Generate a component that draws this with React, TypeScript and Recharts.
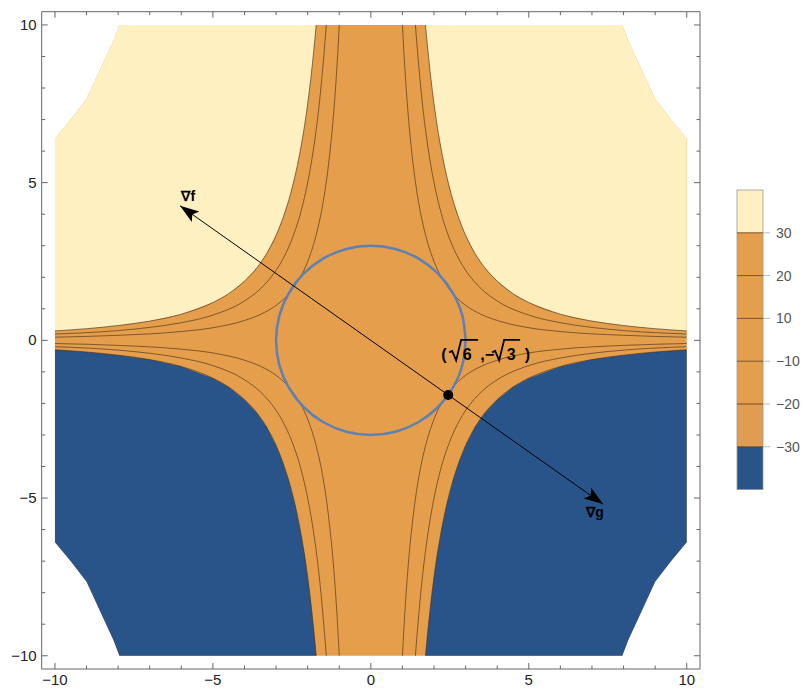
import React from 'react';
import { ScatterChart, Scatter, XAxis, YAxis, ReferenceLine } from 'recharts';

type Pt = { x: number; y: number };

const LIM = 10.42;
const AXIS_TICKS = [-10, -9, -8, -7, -6, -5, -4, -3, -2, -1, 0, 1, 2, 3, 4, 5, 6, 7, 8, 9, 10];

// contours of f = x²y, branch with x > 0, y > 0
const LEVEL_10 = [[1, 10], [1.05, 9.07], [1.1, 8.26], [1.2, 6.94], [1.3, 5.92], [1.4, 5.1], [1.5, 4.44], [1.75, 3.27], [2, 2.5], [2.5, 1.6], [3, 1.11], [3.5, 0.82], [4, 0.63], [5, 0.4], [6, 0.28], [8, 0.16], [10, 0.1]];
const LEVEL_20 = [[1.41, 10], [1.5, 8.89], [1.6, 7.81], [1.75, 6.53], [1.9, 5.54], [2, 5], [2.2, 4.13], [2.5, 3.2], [2.8, 2.55], [3, 2.22], [3.5, 1.63], [4, 1.25], [5, 0.8], [6, 0.56], [7, 0.41], [8, 0.31], [10, 0.2]];
const LEVEL_30 = [[1.73, 10], [1.8, 9.26], [1.9, 8.31], [2, 7.5], [2.1, 6.8], [2.25, 5.93], [2.4, 5.21], [2.6, 4.44], [2.8, 3.83], [3, 3.33], [3.3, 2.75], [3.6, 2.31], [4, 1.88], [4.5, 1.48], [5, 1.2], [6, 0.83], [7, 0.61], [8, 0.47], [9, 0.37], [10, 0.3]];

// edge of the plotted region in the upper-right corner
const CORNER = [[7.96, 10], [8.15, 9.5], [8.45, 8.85], [9.0, 7.65], [9.5, 7.0], [10, 6.4]];

// constraint circle x² + y² = 9
const CIRCLE = [[3, 0], [2.898, 0.776], [2.598, 1.5], [2.121, 2.121], [1.5, 2.598], [0.776, 2.898], [0, 3], [-0.776, 2.898], [-1.5, 2.598], [-2.121, 2.121], [-2.598, 1.5], [-2.898, 0.776], [-3, 0], [-2.898, -0.776], [-2.598, -1.5], [-2.121, -2.121], [-1.5, -2.598], [-0.776, -2.898], [0, -3], [0.776, -2.898], [1.5, -2.598], [2.121, -2.121], [2.598, -1.5], [2.898, -0.776], [3, 0]];

const POINT = { x: 2.449, y: -1.732 };
const GRAD_F = [-8.49, 6.0];
const GRAD_G = [4.9, -3.46];

const LEGEND_LABELS = ['30', '20', '10', '\u221210', '\u221220', '\u221230'];

const YELLOW = '#FEF0C0';
const ORANGE = '#E59E4C';
const ORANGE_LOW = '#E09C51';
const BLUE = '#285489';
const LEGEND_COLORS = [YELLOW, ORANGE, ORANGE, ORANGE, ORANGE, ORANGE_LOW, BLUE];
const FRAME = '#666';
const FONT = '"Liberation Sans", Arial, sans-serif';

const PLOT_W = 658.3;
const PLOT_H = 657.3;

const toPts = (a: number[][]): Pt[] => a.map(([x, y]) => ({ x, y }));
const flipX = (a: Pt[]) => a.map((p) => ({ x: -p.x, y: p.y }));
const flipY = (a: Pt[]) => a.map((p) => ({ x: p.x, y: -p.y }));
const rev = (a: Pt[]) => [...a].reverse();

const corner = toPts(CORNER);
const c30 = toPts(LEVEL_30);

const yellowRight = [...c30, ...rev(corner)];
const regions = [
  { key: 'yl', data: flipX(yellowRight), fill: YELLOW },
  { key: 'yr', data: yellowRight, fill: YELLOW },
  { key: 'bl', data: flipX(flipY(yellowRight)), fill: BLUE },
  { key: 'br', data: flipY(yellowRight), fill: BLUE },
];
const plotted = [...corner, ...rev(flipY(corner)), ...flipX(flipY(corner)), ...rev(flipX(corner))];

const contours: { key: string; data: Pt[] }[] = [];
[LEVEL_10, LEVEL_20, LEVEL_30].forEach((lv, i) => {
  const right = toPts(lv);
  const left = rev(flipX(right));
  contours.push({ key: `r${i}`, data: right });
  contours.push({ key: `l${i}`, data: left });
  contours.push({ key: `rn${i}`, data: flipY(right) });
  contours.push({ key: `ln${i}`, data: flipY(left) });
});

const tipF = { x: POINT.x + GRAD_F[0], y: POINT.y + GRAD_F[1], dx: GRAD_F[0], dy: GRAD_F[1] };
const tipG = { x: POINT.x + GRAD_G[0], y: POINT.y + GRAD_G[1], dx: GRAD_G[0], dy: GRAD_G[1] };

const LABELS = [
  { x: -5.78, y: 4.58, text: 'f' },
  { x: 7.1, y: -5.45, text: 'g' },
  { x: 3.65, y: -0.35, text: 'pt' },
];

const fmt = (v: number) => (v < 0 ? `\u2212${-v}` : `${v}`);
const none = () => <g />;

function XTick(props: any) {
  const { x, y, payload } = props;
  const v = payload.value;
  const major = v % 5 === 0;
  const len = major ? 6 : 3.5;
  return (
    <g>
      <line x1={x} x2={x} y1={y} y2={y - len} stroke={FRAME} />
      <line x1={x} x2={x} y1={y - PLOT_H} y2={y - PLOT_H + len} stroke={FRAME} />
      {major && (
        <text x={x} y={y + 16} textAnchor="middle" fontSize={15} fontFamily={FONT} fill="#222">
          {fmt(v)}
        </text>
      )}
    </g>
  );
}

function YTick(props: any) {
  const { x, y, payload } = props;
  const v = payload.value;
  const major = v % 5 === 0;
  const len = major ? 6 : 3.5;
  return (
    <g>
      <line x1={x} x2={x + len} y1={y} y2={y} stroke={FRAME} />
      <line x1={x + PLOT_W} x2={x + PLOT_W - len} y1={y} y2={y} stroke={FRAME} />
      {major && (
        <text x={x - 5} y={y + 5} textAnchor="end" fontSize={15} fontFamily={FONT} fill="#222">
          {fmt(v)}
        </text>
      )}
    </g>
  );
}

function Head(props: any) {
  const { cx, cy, payload } = props;
  const ang = (Math.atan2(-payload.dy, payload.dx) * 180) / Math.PI;
  return (
    <path
      d="M0,0 L-19,-6.5 L-15,0 L-19,6.5 Z"
      transform={`translate(${cx},${cy}) rotate(${ang})`}
      fill="#000"
    />
  );
}

const RADICAL = 'M-37,1 l3,-1.5 l4,9.5 l5,-20.5';

function Label(props: any) {
  const { cx, cy, payload } = props;
  const common = { fontFamily: FONT, fontWeight: 700, fill: '#000' } as const;
  if (payload.text === 'pt') {
    return (
      <g transform={`translate(${cx},${cy})`}>
        <text y={9} fontSize={16} {...common}>
          <tspan x={-45}>(</tspan>
          <tspan x={-23.5}>6</tspan>
          <tspan x={-6}>,</tspan>
          <tspan x={-1.5}>−</tspan>
          <tspan x={20.5}>3</tspan>
          <tspan x={38.5}>)</tspan>
        </text>
        <path d={`${RADICAL} H-8`} fill="none" stroke="#000" strokeWidth={1.8} />
        <path d={`${RADICAL} H-9`} transform="translate(43,0)" fill="none" stroke="#000" strokeWidth={1.8} />
      </g>
    );
  }
  return (
    <text x={cx} y={cy + 5} textAnchor="middle" fontSize={14} {...common}>
      ∇{payload.text}
    </text>
  );
}

function ColorBar() {
  const bandH = 42.8;
  return (
    <svg width={80} height={320} style={{ position: 'absolute', left: 730, top: 185 }}>
      {LEGEND_COLORS.map((c, i) => (
        <rect key={c + i} x={7} y={5 + i * bandH} width={26} height={bandH} fill={c} />
      ))}
      <rect x={7} y={5} width={26} height={bandH * 7} fill="none" stroke="#999" strokeWidth={0.8} />
      {LEGEND_LABELS.map((t, i) => {
        const yy = 5 + (i + 1) * bandH;
        return (
          <g key={t}>
            <line x1={7} x2={33} y1={yy} y2={yy} stroke="#5a3c1c" strokeWidth={0.8} />
            <line x1={33} x2={40} y1={yy} y2={yy} stroke="#bbb" />
            <text x={46} y={yy + 5} fontSize={14} fontFamily={FONT} fill="#555">
              {t}
            </text>
          </g>
        );
      })}
    </svg>
  );
}

export default function App() {
  return (
    <div style={{ position: 'absolute', left: 0, top: 0, width: 806, height: 692, background: '#fff' }}>
      <ScatterChart width={806} height={692} margin={{ top: 11.7, right: 106, bottom: 0, left: 0 }}>
        <XAxis
          type="number"
          dataKey="x"
          domain={[-LIM, LIM]}
          ticks={AXIS_TICKS}
          interval={0}
          allowDataOverflow
          height={23}
          tickSize={0}
          tickMargin={0}
          tickLine={false}
          axisLine={{ stroke: FRAME }}
          tick={<XTick />}
        />
        <YAxis
          type="number"
          dataKey="y"
          domain={[-LIM, LIM]}
          ticks={AXIS_TICKS}
          interval={0}
          allowDataOverflow
          width={41.7}
          tickSize={0}
          tickMargin={0}
          tickLine={false}
          axisLine={{ stroke: FRAME }}
          tick={<YTick />}
        />
        <Scatter
          data={plotted}
          fill={ORANGE}
          shape={none}
          line={{ fill: ORANGE, stroke: 'none' }}
          lineJointType="linear"
          isAnimationActive={false}
        />
        {regions.map((r) => (
          <Scatter
            key={r.key}
            data={r.data}
            fill={r.fill}
            shape={none}
            line={{ fill: r.fill, stroke: 'none' }}
            lineJointType="linear"
            isAnimationActive={false}
          />
        ))}
        {contours.map((c) => (
          <Scatter
            key={c.key}
            data={c.data}
            fill="none"
            shape={none}
            line={{ stroke: '#3b2814', strokeOpacity: 0.75, strokeWidth: 0.8, fill: 'none' }}
            lineJointType="monotoneX"
            isAnimationActive={false}
          />
        ))}
        <Scatter
          data={toPts(CIRCLE)}
          fill="none"
          shape={none}
          line={{ stroke: '#5E81B5', strokeWidth: 2.5, fill: 'none' }}
          lineJointType="natural"
          isAnimationActive={false}
        />
        <Scatter
          data={[tipF, POINT, tipG]}
          fill="none"
          shape={none}
          line={{ stroke: '#000', strokeWidth: 1, fill: 'none' }}
          lineJointType="linear"
          isAnimationActive={false}
        />
        <Scatter data={[tipF, tipG]} fill="#000" shape={<Head />} isAnimationActive={false} />
        <Scatter
          data={[POINT]}
          fill="#000"
          shape={(p: any) => <circle cx={p.cx} cy={p.cy} r={5} fill="#000" />}
          isAnimationActive={false}
        />
        <Scatter data={LABELS} fill="#000" shape={<Label />} isAnimationActive={false} />
        <ReferenceLine y={LIM} stroke={FRAME} />
        <ReferenceLine x={LIM} stroke={FRAME} />
      </ScatterChart>
      <ColorBar />
    </div>
  );
}
